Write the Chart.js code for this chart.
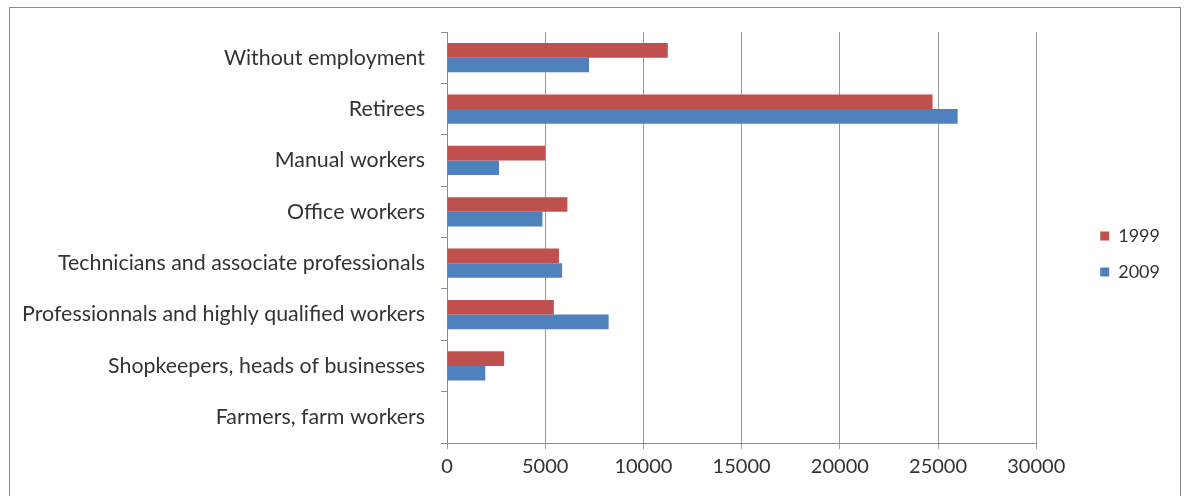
<!DOCTYPE html>
<html>
<head>
<meta charset="utf-8">
<script src="https://cdn.jsdelivr.net/npm/chart.js@4.4.1/dist/chart.umd.min.js"></script>
<style>
  html, body { margin: 0; padding: 0; background: #fff; }
  #wrap { position: relative; width: 1184px; height: 496px; overflow: hidden; }
  #frame { position: absolute; left: 9px; top: 7px; width: 1172px; height: 520px; border: 1px solid #8a8a8a; box-sizing: border-box; }
  canvas { position: absolute; left: 0; top: 0; }
</style>
</head>
<body>
<div id="wrap">
  <div id="frame"></div>
  <canvas id="c" width="1184" height="496"></canvas>
</div>
<script>
const categories = [
  "Without employment",
  "Retirees",
  "Manual workers",
  "Office workers",
  "Technicians and associate professionals",
  "Professionnals and highly qualified workers",
  "Shopkeepers, heads of businesses",
  "Farmers, farm workers"
];
const values1999 = [11240, 24720, 5000, 6130, 5700, 5440, 2910, 0];
const values2009 = [7230, 26000, 2650, 4860, 5860, 8230, 1950, 0];
const seriesNames = ["1999", "2009"];
const xTicks = [0, 5000, 10000, 15000, 20000, 25000, 30000];

const FONT = "Lato";
const TEXT = "#333333";

new Chart(document.getElementById("c"), {
  type: "bar",
  data: {
    labels: categories,
    datasets: [
      { label: seriesNames[0], data: values1999, backgroundColor: "#C0504D", borderWidth: 0 },
      { label: seriesNames[1], data: values2009, backgroundColor: "#4F81BD", borderWidth: 0 }
    ]
  },
  options: {
    indexAxis: "y",
    responsive: false,
    animation: false,
    devicePixelRatio: 1,
    categoryPercentage: 0.57,
    barPercentage: 1.0,
    layout: { padding: { top: 12, left: 0, right: 14, bottom: 0 } },
    plugins: {
      title: { display: true, text: " ", fullSize: false, font: { size: 10 }, padding: { top: 8, bottom: 0 } },
      tooltip: { enabled: false },
      legend: {
        position: "right",
        align: "center",
        labels: {
          boxWidth: 9, boxHeight: 9, padding: 18,
          color: TEXT,
          font: { family: FONT, size: 18 }
        }
      }
    },
    scales: {
      x: {
        min: 0, max: 30000,
        afterBuildTicks: (s) => { s.ticks = xTicks.map(v => ({ value: v })); },
        afterFit: (s) => { s.height = 53; },
        grid: { color: "#9a9a9a", lineWidth: 1, tickLength: 6, drawTicks: true },
        border: { color: "#8a8a8a", width: 1 },
        ticks: { color: TEXT, font: { family: FONT, size: 20 }, padding: 6, maxRotation: 0,
                 callback: (v) => String(v) }
      },
      y: {
        afterFit: (s) => { s.width = 447; },
        grid: { drawOnChartArea: false, drawTicks: true, tickLength: 6, color: "#8a8a8a", offset: true },
        border: { color: "#8a8a8a", width: 1 },
        ticks: { color: TEXT, font: { family: FONT, size: 21.4 }, padding: 16, crossAlign: "near" }
      },
      gap: {
        type: "category",
        position: "right",
        display: true,
        afterFit: (s) => { s.width = 46; },
        grid: { display: false },
        border: { display: false },
        ticks: { display: false }
      }
    }
  }
});
</script>
</body>
</html>
